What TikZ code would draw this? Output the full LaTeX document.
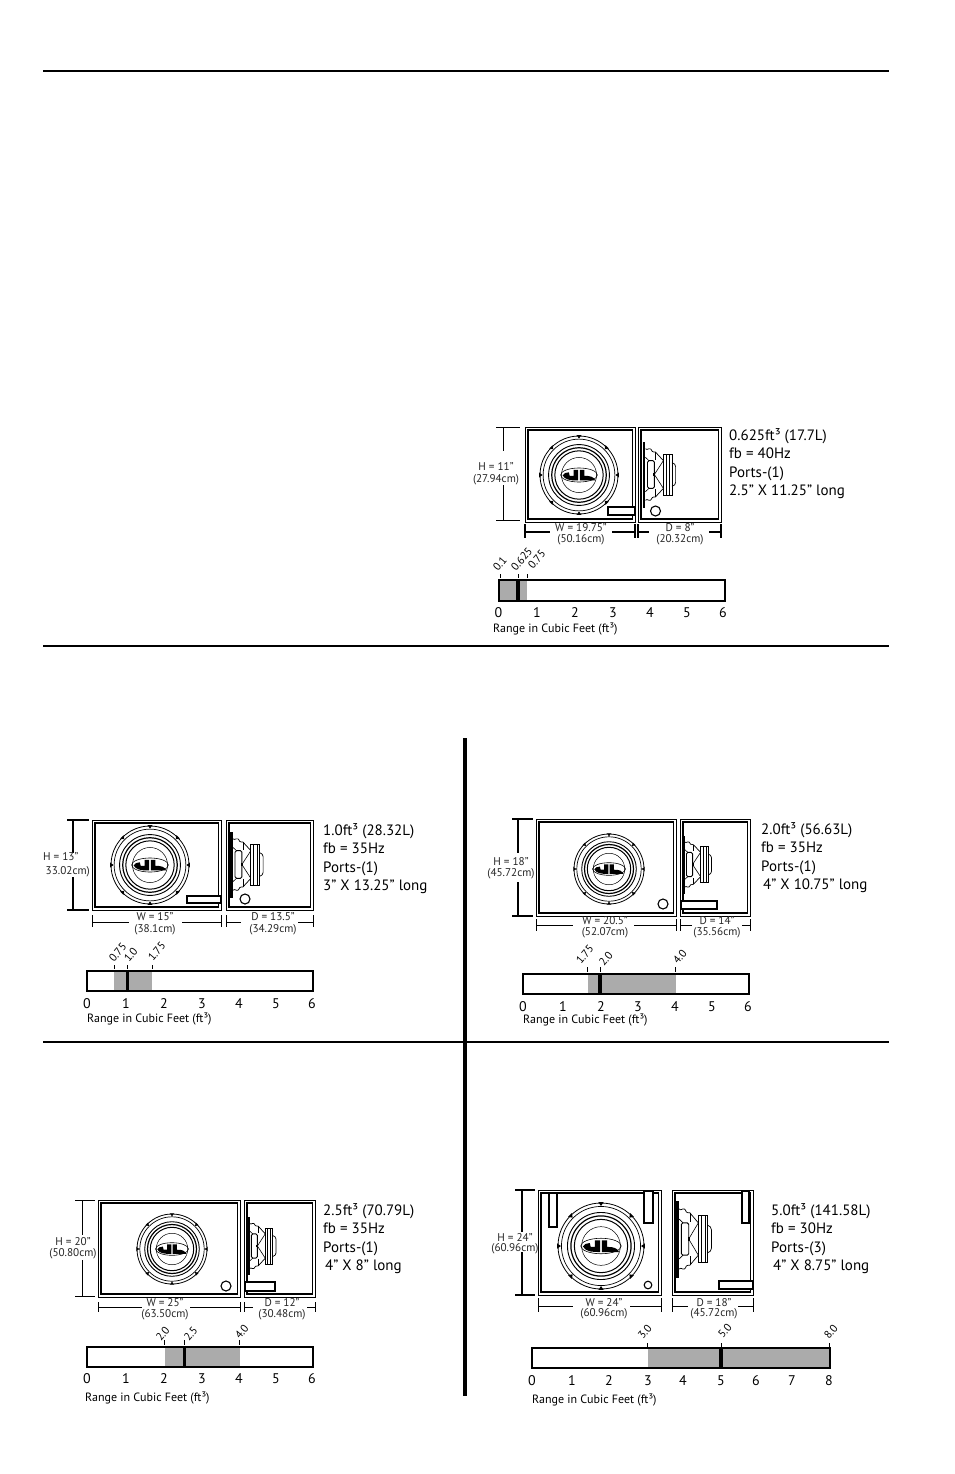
\documentclass[tikz,border=0pt]{standalone}
\usepackage{fontspec}
\setmainfont{PT Sans}
\tikzset{
  rulethick/.style={line width=1.8pt,black},
  sepbar/.style={line width=3.6pt,black},
  boxouter/.style={draw,line width=0.9pt},
  boxinner/.style={draw,line width=1.6pt},
  portbox/.style={draw,fill=white,line width=1.2pt},
  portround/.style={draw,fill=white,line width=1.1pt},
  dimtext/.style={inner sep=0pt,font=\fontsize{11.2}{11.2}\selectfont,text=black!85},
  spectext/.style={inner sep=0pt,anchor=base west,font=\fontsize{15}{15}\selectfont},
  numtext/.style={inner sep=0pt,anchor=base,font=\fontsize{14}{14}\selectfont},
  captext/.style={inner sep=0pt,anchor=west,font=\fontsize{12}{12}\selectfont},
  ticktext/.style={inner sep=0pt,anchor=base west,rotate=50,font=\fontsize{11}{11}\selectfont},
  barframe/.style={draw,line width=1.3pt},
  barrange/.style={fill=black!33},
  barmark/.style={fill=black},
  ticklabelline/.style={line width=0.8pt},
}
% enclosure: thin outer outline, heavier inner outline
\newcommand{\enclosure}[4]{%
  \path[boxouter] (#1,#2) rectangle (#3,#4);
  \path[boxinner] ({#1+3},{#2+3}) rectangle ({#3-2.5},{#4-3});
}
% woofer seen from the front
\newcommand{\wooferfront}[3]{%
  \begin{scope}[shift={(#1,#2)},x=#3pt,y=#3pt]
    \draw[line width=0.8pt,fill=white] (0,0) circle[radius=1];
    \draw[line width=0.7pt] (0,0) circle[radius=0.92];
    \draw[line width=0.9pt] (0,0) circle[radius=0.78];
    \draw[line width=1.2pt] (0,0) circle[radius=0.70];
    \draw[line width=1.0pt] (0,0) circle[radius=0.62];
    \draw[line width=0.5pt] (0,0) circle[radius=0.45];
    \foreach \a in {0,45,...,315}{
      \fill[rotate=\a] (0.93,0) -- (1.02,0.06) -- (1.02,-0.06) -- cycle;
    }
    \draw[line width=0.6pt] (0,0) ellipse[x radius=0.47,y radius=0.18];
    \fill (-0.42,-0.01) .. controls (-0.36,-0.12) and (-0.25,-0.14) .. (-0.02,-0.14)
       -- (-0.02,0.13) -- (-0.14,0.13) -- (-0.14,-0.02) -- (-0.24,-0.02) -- (-0.26,0.07)
       .. controls (-0.33,0.07) and (-0.4,0.04) .. cycle;
    \fill (0.02,-0.14) -- (0.42,-0.14) .. controls (0.38,-0.05) and (0.3,-0.02) .. (0.14,-0.02)
       -- (0.14,0.13) -- (0.02,0.13) -- cycle;
  \end{scope}
}
% woofer seen from the side: baffle at x, centre y, half height, horizontal unit
\newcommand{\wooferside}[4]{%
  \begin{scope}[shift={(#1,#2)},x=#4pt,y=#3pt]
    \fill (0,-1) rectangle (0.08,1);
    \draw[line width=0.7pt] (0.08,-0.78) .. controls (0.14,-0.7) and (0.2,-0.88) .. (0.27,-0.7)
       .. controls (0.3,-0.66) and (0.32,-0.7) .. (0.36,-0.68) -- (0.58,-0.42);
    \draw[line width=0.7pt] (0.08,0.78) .. controls (0.14,0.7) and (0.2,0.88) .. (0.27,0.7)
       .. controls (0.3,0.66) and (0.32,0.7) .. (0.36,0.68) -- (0.58,0.42);
    \draw[line width=0.7pt] (0.36,-0.68) -- (0.36,-0.45);
    \draw[line width=0.7pt] (0.36,0.68) -- (0.36,0.45);
    \draw[line width=0.9pt,rounded corners=1.5pt] (0.14,-0.42) rectangle (0.33,0.42);
    \draw[line width=0.6pt] (0.08,-0.52) -- (0.18,-0.42);
    \draw[line width=0.6pt] (0.08,0.52) -- (0.18,0.42);
    \draw[line width=0.6pt] (0.33,0) -- (0.58,-0.42);
    \draw[line width=0.6pt] (0.33,0) -- (0.58,0.42);
    \fill (0.3,-0.05) rectangle (0.36,0.05);
    \draw[line width=0.9pt,fill=white] (0.58,-0.62) rectangle (0.82,0.62);
    \draw[line width=0.5pt] (0.65,-0.62) -- (0.65,0.62);
    \draw[line width=0.5pt] (0.75,-0.62) -- (0.75,0.62);
    \draw[line width=0.7pt] (0.82,-0.36) .. controls (0.88,-0.34) and (0.92,-0.3) .. (0.92,-0.24) -- (0.92,0.24) .. controls (0.92,0.3) and (0.88,0.34) .. (0.82,0.36);
  \end{scope}
}
% vertical dimension: [width] x, tick left, tick right, y1, y2, gap start, gap end
\newcommand{\vdimension}[8][1pt]{%
  \draw[line width=#1] (#2,#5) -- (#2,#7) (#2,#8) -- (#2,#6);
  \draw[line width=#1] (#3,#5) -- (#4,#5) (#3,#6) -- (#4,#6);
}
% horizontal dimension: [width] y, tick top, tick bottom, x1, x2, gap start, gap end
\newcommand{\hdimension}[8][1pt]{%
  \draw[line width=#1] (#5,#2) -- (#7,#2) (#8,#2) -- (#6,#2);
  \draw[line width=#1] (#5,#3) -- (#5,#4) (#6,#3) -- (#6,#4);
}
% two-line dimension text: name, x, y1, y2, line 1, line 2
\newcommand{\dimlabel}[6]{%
  \node[dimtext] (#1a) at (#2,#3) {#5};
  \node[dimtext] (#1b) at (#2,#4) {#6};
}
% four-line specification: name, x, y of first line (centre), then texts
\newcommand{\specblock}[7]{%
  \node[spectext] (#1a) at (#2,{#3+5}) {#4};
  \node[spectext] (#1b) at (#2,{#3+23.5}) {#5};
  \node[spectext] (#1c) at (#2,{#3+42}) {#6};
  \node[spectext] (#1d) at (#2,{#3+60.5}) {#7};
}
% range bar: x1, y1, x2, y2, range start, range end, mark start, mark end
\newcommand{\rangebar}[8]{%
  \fill[white] (#1,#2) rectangle (#3,#4);
  \path[barrange] (#5,#2) rectangle (#6,#4);
  \path[barmark] (#7,#2) rectangle (#8,#4);
  \path[barframe] (#1,#2) rectangle (#3,#4);
}
% tick above the bar: x, y top, y bottom, label, label base x, label base y
\newcommand{\ticklabel}[6]{%
  \draw[ticklabelline] (#1,#2) -- (#1,#3);
  \node[ticktext] at (#5,#6) {#4};
}
\newcommand{\scalenum}[3]{\node[numtext] at (#1,{#2+5}) {#3};}
\begin{document}
\begin{tikzpicture}[x=1pt,y=-1pt]
\useasboundingbox (0,0) rectangle (954,1474);
\fill[white] (0,0) rectangle (954,1474);

% rules
\coordinate (ra1) at (43,71);  \coordinate (ra2) at (889,71);
\coordinate (rb1) at (43,646); \coordinate (rb2) at (889,646);
\coordinate (rc1) at (43,1042);\coordinate (rc2) at (889,1042);
\coordinate (va) at (465,738); \coordinate (vb) at (465,1396);
\draw[rulethick] (ra1) -- (ra2);
\draw[rulethick] (rb1) -- (rb2);
\draw[rulethick] (rc1) -- (rc2);
\draw[sepbar] (va) -- (vb);

% ---------- panel A
\enclosure{525}{427}{635}{522}
\wooferfront{579}{475}{39}
\path[portbox] (608,507) rectangle (635,515);
\enclosure{638}{427}{721}{522}
\wooferside{642.5}{474.5}{33}{36}
\path[portround] (655.5,511) circle[radius=5];
\vdimension{503}{496}{520}{427}{520}{451}{485}
\dimlabel{ah}{496}{467}{480}{H = 11"}{(27.94cm)}
\hdimension[1.4pt]{532}{524}{538}{525}{635}{550}{612}
\dimlabel{aw}{581}{528}{540}{W = 19.75"}{(50.16cm)}
\hdimension[1.4pt]{532}{524}{538}{638}{721}{649}{709}
\dimlabel{ad}{680}{528}{540}{D = 8"}{(20.32cm)}
\specblock{as}{729}{435}{0.625ft³ (17.7L)}{fb = 40Hz}{Ports-(1)}{2.5" X 11.25" long}
\rangebar{499}{580}{725}{601}{499}{527}{516}{520}
\ticklabel{500}{574}{578}{0.1}{498}{572}
\ticklabel{518}{574}{578}{0.625}{516}{572}
\ticklabel{527}{574}{578}{0.75}{533}{570}
\scalenum{498.5}{612}{0}\scalenum{537}{612}{1}\scalenum{575}{612}{2}\scalenum{613}{612}{3}\scalenum{650}{612}{4}\scalenum{687}{612}{5}\scalenum{723}{612}{6}
\node[captext] (acap) at (493,629) {Range in Cubic Feet (ft³)};

% ---------- panel B
\enclosure{92}{820}{221}{910}
\wooferfront{150}{865}{39}
\path[portbox] (187,896) rectangle (221,903);
\enclosure{226}{820}{313}{910}
\wooferside{230}{864.5}{33}{36}
\path[portround] (245,899) circle[radius=5];
\vdimension[1.3pt]{73}{67}{89}{820}{910}{853}{877}
\node[dimtext,anchor=west] (bha) at (43,857) {H = 13"};
\node[dimtext,anchor=east] (bhb) at (90,872) {33.02cm)};
\hdimension{922}{915}{927}{92}{221}{129}{182}
\dimlabel{bw}{155}{917}{930}{W = 15"}{(38.1cm)}
\hdimension{922}{915}{927}{226}{313}{241}{298}
\dimlabel{bd}{273}{917}{930}{D = 13.5"}{(34.29cm)}
\specblock{bs}{323}{830}{1.0ft³ (28.32L)}{fb = 35Hz}{Ports-(1)}{3" X 13.25" long}
\rangebar{87}{971}{313}{991}{114}{152}{126}{129}
\ticklabel{114}{965}{969}{0.75}{114}{963}
\ticklabel{127}{965}{969}{1.0}{129}{963}
\ticklabel{152}{965}{969}{1.75}{153}{962}
\scalenum{87}{1003}{0}\scalenum{126}{1003}{1}\scalenum{164}{1003}{2}\scalenum{202}{1003}{3}\scalenum{239}{1003}{4}\scalenum{276}{1003}{5}\scalenum{312}{1003}{6}
\node[captext] (bcap) at (87,1019) {Range in Cubic Feet (ft³)};

% ---------- panel C
\enclosure{536}{819}{676}{916}
\wooferfront{609}{869}{35}
\path[portround] (663,904) circle[radius=5];
\enclosure{680}{819}{750}{916}
\wooferside{682}{864.5}{29}{32}
\path[portbox] (681,901) rectangle (717,909);
\vdimension[2.3pt]{518}{512}{533}{819}{916}{853}{882}
\dimlabel{ch}{511}{862}{874}{H = 18"}{(45.72cm)}
\hdimension{925}{919}{931}{536}{676}{573}{634}
\dimlabel{cw}{605}{921}{933}{W = 20.5"}{(52.07cm)}
\hdimension{925}{919}{931}{680}{750}{692}{742}
\dimlabel{cd}{717}{921}{933}{D = 14"}{(35.56cm)}
\specblock{cs}{761}{829}{2.0ft³ (56.63L)}{fb = 35Hz}{Ports-(1)}{\hspace*{2pt}4" X 10.75" long}
\rangebar{523}{974}{749}{994}{588}{676}{598}{602}
\ticklabel{587}{967}{972}{1.75}{581}{965}
\ticklabel{600}{967}{972}{2.0}{604}{967}
\ticklabel{675}{967}{972}{4.0}{678}{965}
\scalenum{523}{1006}{0}\scalenum{563}{1006}{1}\scalenum{601}{1006}{2}\scalenum{638}{1006}{3}\scalenum{675}{1006}{4}\scalenum{712}{1006}{5}\scalenum{748}{1006}{6}
\node[captext] (ccap) at (523,1020) {Range in Cubic Feet (ft³)};

% ---------- panel D
\enclosure{98}{1200}{240}{1297}
\wooferfront{172}{1249}{35}
\path[portround] (226,1286) circle[radius=5];
\enclosure{244}{1200}{315}{1297}
\wooferside{247}{1246}{29}{31.5}
\path[portbox] (245,1282) rectangle (275,1291);
\vdimension[0.8pt]{82}{75}{95}{1200}{1296}{1235}{1260}
\dimlabel{dh}{73}{1242}{1254}{H = 20"}{(50.80cm)}
\hdimension{1307}{1302}{1312}{98}{240}{142}{190}
\dimlabel{dw}{165}{1303}{1315}{W = 25"}{(63.50cm)}
\hdimension{1307}{1302}{1312}{244}{315}{253}{307}
\dimlabel{dd}{282}{1303}{1315}{D = 12"}{(30.48cm)}
\specblock{ds}{323}{1210}{2.5ft³ (70.79L)}{fb = 35Hz}{Ports-(1)}{\hspace*{2pt}4" X 8" long}
\rangebar{87}{1347}{313}{1367}{165}{240}{183}{186}
\ticklabel{164}{1340}{1345}{2.0}{161}{1342}
\ticklabel{184}{1340}{1345}{2.5}{189}{1342}
\ticklabel{239}{1340}{1345}{4.0}{240}{1340}
\scalenum{87}{1378}{0}\scalenum{126}{1378}{1}\scalenum{164}{1378}{2}\scalenum{202}{1378}{3}\scalenum{239}{1378}{4}\scalenum{276}{1378}{5}\scalenum{312}{1378}{6}
\node[captext] (dcap) at (85,1398) {Range in Cubic Feet (ft³)};

% ---------- panel E
\enclosure{538}{1190}{661}{1295}
\wooferfront{601}{1246}{43}
\path[portbox] (549,1193) rectangle (557,1227);
\path[portbox] (644,1191) rectangle (653,1223);
\path[portround] (648,1285) circle[radius=3.8];
\enclosure{672}{1190}{753}{1295}
\wooferside{676}{1239}{38.5}{38.5}
\path[portbox] (742,1191) rectangle (749,1223);
\path[portbox] (719,1281) rectangle (753,1289);
\vdimension[1.5pt]{522}{515}{535}{1190}{1295}{1232}{1252}
\dimlabel{eh}{515}{1237}{1249}{H = 24"}{(60.96cm)}
\hdimension{1306}{1298}{1312}{538}{661}{573}{630}
\dimlabel{ew}{604}{1303}{1314}{W = 24"}{(60.96cm)}
\hdimension{1306}{1298}{1312}{672}{753}{688}{738}
\dimlabel{ed}{714}{1303}{1314}{D = 18"}{(45.72cm)}
\specblock{es}{771}{1210}{5.0ft³ (141.58L)}{fb = 30Hz}{Ports-(3)}{\hspace*{2pt}4" X 8.75" long}
\rangebar{532}{1348}{830}{1368}{648}{830}{719}{723}
\ticklabel{647}{1343}{1347}{3.0}{643}{1340}
\ticklabel{721}{1343}{1347}{5.0}{723}{1339}
\ticklabel{829}{1343}{1347}{8.0}{829}{1340}
\scalenum{532}{1380}{0}\scalenum{572}{1380}{1}\scalenum{609}{1380}{2}\scalenum{648}{1380}{3}\scalenum{683}{1380}{4}\scalenum{721}{1380}{5}\scalenum{756}{1380}{6}\scalenum{792}{1380}{7}\scalenum{829}{1380}{8}
\node[captext] (ecap) at (532,1400) {Range in Cubic Feet (ft³)};
\end{tikzpicture}
\end{document}
